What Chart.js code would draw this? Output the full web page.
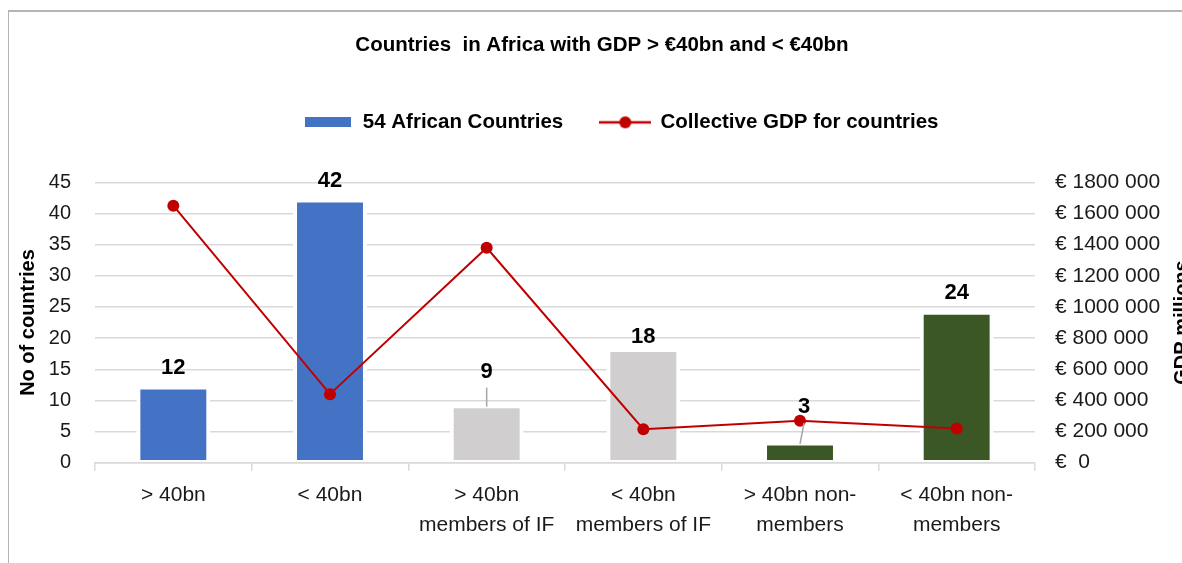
<!DOCTYPE html>
<html lang="en">
<head>
  <meta charset="UTF-8">
  <title>Countries in Africa with GDP > €40bn and < €40bn</title>
  <script src="https://cdn.jsdelivr.net/npm/chart.js"></script>
  <style>
    html, body { margin: 0; padding: 0; background: #fff; }
    .frame {
      position: absolute; left: 8px; top: 10px; width: 1300px; height: 700px;
      border-top: 2px solid #b4b4b4; border-left: 1px solid #b4b4b4;
    }
    #gdpChart { position: absolute; left: 0; top: 0; }
  </style>
</head>
<body>
  <div class="frame"></div>
  <canvas id="gdpChart" width="1182" height="563"></canvas>

  <script>
    const categories = [
      ['> 40bn'],
      ['< 40bn'],
      ['> 40bn', 'members of IF'],
      ['< 40bn', 'members of IF'],
      ['> 40bn non-', 'members'],
      ['< 40bn non-', 'members']
    ];
    const countryCounts = [12, 42, 9, 18, 3, 24];
    const collectiveGdp = [1650000, 440000, 1380000, 215000, 270000, 220000];

    const barColors = ['#4472C4', '#4472C4', '#D0CECE', '#D0CECE', '#3B5725', '#3B5725'];
    const lineColor = '#C00000';
    const textColor = '#1a1a1a';
    const fontFamily = '"Liberation Sans", Arial, sans-serif';
    const padLeft = 22;

    // label lift above the bar top (px); some labels sit higher with a leader line
    const labelLift = { 2: 35, 3: 14, 4: 37 };
    const labelShift = { 4: 4 };
    const withLeader = [2, 4];

    function euro(v) {
      if (v === 0) return '€  0';
      const k = Math.floor(v / 1000);
      const rest = String(v % 1000).padStart(3, '0');
      return '€ ' + k + ' ' + rest;
    }

    // legend swatches
    function makeBarIcon() {
      const c = document.createElement('canvas');
      c.width = 46; c.height = 10;
      const g = c.getContext('2d');
      g.fillStyle = barColors[0];
      g.fillRect(0, 0, 46, 10);
      return c;
    }
    function makeLineIcon() {
      const c = document.createElement('canvas');
      c.width = 52; c.height = 14;
      const g = c.getContext('2d');
      g.strokeStyle = lineColor; g.lineWidth = 2.5;
      g.beginPath(); g.moveTo(0, 7); g.lineTo(52, 7); g.stroke();
      g.fillStyle = lineColor;
      g.beginPath(); g.arc(26, 7, 6, 0, Math.PI * 2); g.fill();
      return c;
    }
    const legendIcons = [makeBarIcon(), makeLineIcon()];

    // legend row sits a little right of the title's centre
    const legendNudge = {
      id: 'legendNudge',
      afterLayout(chart) {
        if (chart.legend) chart.legend.left += 37;
      }
    };

    const barLabels = {
      id: 'barLabels',
      afterDatasetsDraw(chart) {
        const ctx = chart.ctx;
        const meta = chart.getDatasetMeta(0);
        ctx.save();
        ctx.font = 'bold 22px ' + fontFamily;
        ctx.fillStyle = '#000';
        ctx.textAlign = 'center';
        ctx.textBaseline = 'middle';
        meta.data.forEach((bar, i) => {
          const lift = labelLift[i] !== undefined ? labelLift[i] : 20.5;
          const lx = bar.x + (labelShift[i] || 0);
          const ly = bar.y - lift;
          if (withLeader.includes(i)) {
            ctx.strokeStyle = '#A6A6A6';
            ctx.lineWidth = 1.5;
            ctx.beginPath();
            ctx.moveTo(lx, ly + 16);
            ctx.lineTo(bar.x, bar.y);
            ctx.stroke();
          }
          ctx.fillText(String(countryCounts[i]), lx, ly);
        });
        ctx.restore();
      }
    };

    const axisTitles = {
      id: 'axisTitles',
      afterDraw(chart) {
        const ctx = chart.ctx;
        const area = chart.chartArea;
        const midY = (area.top + area.bottom) / 2;
        ctx.save();
        ctx.font = 'bold 20px ' + fontFamily;
        ctx.fillStyle = '#000';
        ctx.textAlign = 'center';
        ctx.textBaseline = 'middle';
        ctx.translate(28, midY);
        ctx.rotate(-Math.PI / 2);
        ctx.fillText('No of countries', 0, 0);
        ctx.restore();

        ctx.save();
        ctx.font = 'bold 20px ' + fontFamily;
        ctx.fillStyle = '#000';
        ctx.textAlign = 'center';
        ctx.textBaseline = 'middle';
        ctx.translate(1182, midY);
        ctx.rotate(-Math.PI / 2);
        ctx.fillText('GDP millions', 0, 0);
        ctx.restore();
      }
    };

    const ctx = document.getElementById('gdpChart').getContext('2d');
    new Chart(ctx, {
      data: {
        labels: categories,
        datasets: [
          {
            type: 'bar',
            label: '54 African Countries',
            data: countryCounts,
            backgroundColor: barColors,
            borderColor: '#fff',
            borderWidth: { top: 1.5, left: 4, right: 4, bottom: 2 },
            borderSkipped: false,
            barPercentage: 0.472,
            categoryPercentage: 1,
            yAxisID: 'y',
            order: 1
          },
          {
            type: 'line',
            label: 'Collective GDP for countries',
            data: collectiveGdp,
            borderColor: lineColor,
            borderWidth: 2,
            pointRadius: 6,
            pointHoverRadius: 6,
            pointBackgroundColor: lineColor,
            pointBorderWidth: 0,
            tension: 0,
            yAxisID: 'y1',
            order: 0
          }
        ]
      },
      options: {
        responsive: false,
        animation: false,
        devicePixelRatio: 1,
        layout: { padding: { left: padLeft, right: 0, top: 0, bottom: 0 } },
        plugins: {
          tooltip: { enabled: false },
          title: {
            display: true,
            text: 'Countries  in Africa with GDP > €40bn and < €40bn',
            color: '#000',
            font: { family: fontFamily, size: 20.5, weight: 'bold', lineHeight: 1.2 },
            padding: { top: 33, bottom: 17.5 }
          },
          legend: {
            display: true,
            position: 'top',
            labels: {
              color: '#000',
              font: { family: fontFamily, size: 20.5, weight: 'bold' },
              usePointStyle: true,
              pointStyleWidth: 50,
              padding: 37,
              sort: (a, b) => a.datasetIndex - b.datasetIndex,
              generateLabels(chart) {
                const items = Chart.defaults.plugins.legend.labels.generateLabels(chart);
                items.forEach(item => { item.pointStyle = legendIcons[item.datasetIndex]; });
                return items;
              }
            }
          }
        },
        scales: {
          x: {
            type: 'category',
            position: 'bottom',
            z: 1,
            offset: true,
            grid: {
              offset: true,
              drawOnChartArea: false,
              drawTicks: true,
              tickLength: 8,
              color: '#D9D9D9',
              lineWidth: 1.5
            },
            border: { display: true, color: '#D9D9D9', width: 1.5 },
            ticks: {
              color: textColor,
              font: { family: fontFamily, size: 21, lineHeight: 1.4 },
              padding: 10,
              maxRotation: 0,
              autoSkip: false
            },
            afterFit(s) { s.height = 563 - 462.7; }
          },
          gap: {
            type: 'category',
            position: 'top',
            display: true,
            grid: { display: false },
            border: { display: false },
            ticks: { display: false },
            afterFit(s) { s.height = 39.75; }
          },
          y: {
            type: 'linear',
            position: 'left',
            min: 0,
            max: 45,
            ticks: {
              stepSize: 5,
              color: textColor,
              font: { family: fontFamily, size: 20 },
              padding: 24
            },
            grid: { color: '#D9D9D9', lineWidth: 1.5, drawTicks: false },
            border: { display: false },
            afterFit(s) { s.width = 95 - padLeft; }
          },
          y1: {
            type: 'linear',
            position: 'right',
            min: 0,
            max: 1800000,
            ticks: {
              stepSize: 200000,
              color: textColor,
              font: { family: fontFamily, size: 21 },
              padding: 12,
              callback: v => euro(v)
            },
            grid: { display: false },
            border: { display: false },
            afterFit(s) { s.width = 1182 - 1035; }
          }
        }
      },
      plugins: [legendNudge, barLabels, axisTitles]
    });
  </script>
</body>
</html>
